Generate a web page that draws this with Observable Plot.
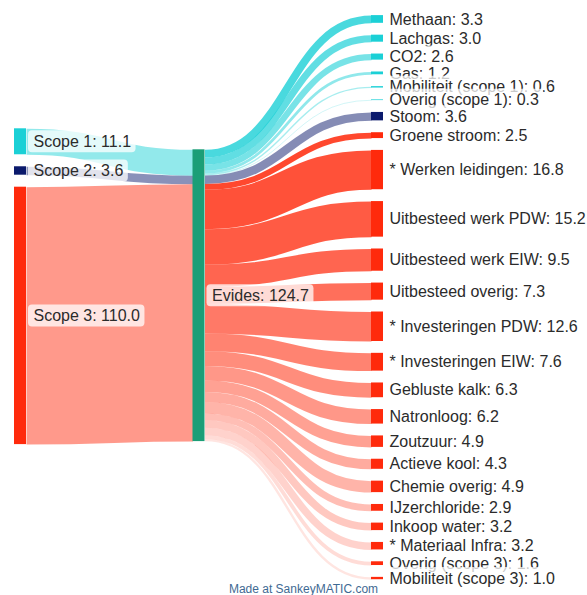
<!DOCTYPE html>
<html>
<head>
<meta charset="utf-8">
<script src="https://cdn.jsdelivr.net/npm/d3@7"></script>
<script src="https://cdn.jsdelivr.net/npm/@observablehq/plot@0.6"></script>
<style>
  html, body { margin: 0; padding: 0; background: #fff; }
  #chart svg { display: block; }
</style>
</head>
<body>
<div id="chart"></div>
<script>
// ---------------- DATA ----------------
const sources = ["Scope 1", "Scope 2", "Scope 3"];
const sourceValues = [11.1, 3.6, 110.0];

const hubName = "Evides";
const hubValue = 124.7;

const targets = [
  "Methaan", "Lachgas", "CO2", "Gas", "Mobiliteit (scope 1)", "Overig (scope 1)",
  "Stoom",
  "Groene stroom", "* Werken leidingen", "Uitbesteed werk PDW", "Uitbesteed werk EIW",
  "Uitbesteed overig", "* Investeringen PDW", "* Investeringen EIW", "Gebluste kalk",
  "Natronloog", "Zoutzuur", "Actieve kool", "Chemie overig", "IJzerchloride",
  "Inkoop water", "* Materiaal Infra", "Overig (scope 3)", "Mobiliteit (scope 3)"
];
const targetValues = [
  3.3, 3.0, 2.6, 1.2, 0.6, 0.3,
  3.6,
  2.5, 16.8, 15.2, 9.5, 7.3, 12.6, 7.6, 6.3, 6.2, 4.9, 4.3, 4.9, 2.9, 3.2, 3.2, 1.6, 1.0
];
const targetScope = [
  "Scope 1", "Scope 1", "Scope 1", "Scope 1", "Scope 1", "Scope 1",
  "Scope 2",
  "Scope 3", "Scope 3", "Scope 3", "Scope 3", "Scope 3", "Scope 3", "Scope 3", "Scope 3",
  "Scope 3", "Scope 3", "Scope 3", "Scope 3", "Scope 3", "Scope 3", "Scope 3", "Scope 3", "Scope 3"
];
const caption = "Made at SankeyMATIC.com";

// ---------------- STYLE / LAYOUT ----------------
const W = 587, H = 595;
const K = 2.34;                 // pixels per unit of value
const u = px => px / K;         // pixel length -> value units (y scale domain)
const scopeColor = {"Scope 1": "#1bd0d6", "Scope 2": "#0b1a6c", "Scope 3": "#ff2a0c"};
const hubColor = "#1b9e77";
const FONT = '"Liberation Sans", Arial, Helvetica, sans-serif';
const FS = 16;

const colL = [14, 26], colM = [192.5, 204.5], colR = [371, 383];
const fmt = v => v.toFixed(1);

const nodes = [];
const links = [];
const labels = [];

// left column
let yy = u(128.3);
const leftNodes = sources.map((s, i) => {
  const n = {name: s, value: sourceValues[i], x0: colL[0], x1: colL[1], y0: yy, y1: yy + sourceValues[i], color: scopeColor[s]};
  yy += sourceValues[i] + u(12);
  nodes.push(n);
  return n;
});
// hub
const hub = {name: hubName, value: hubValue, x0: colM[0], x1: colM[1], y0: u(149.3), y1: u(149.3) + hubValue, color: hubColor};
nodes.push(hub);
// right column
yy = u(15.1);
const rightNodes = targets.map((t, i) => {
  const n = {name: t, value: targetValues[i], x0: colR[0], x1: colR[1], y0: yy, y1: yy + targetValues[i], color: scopeColor[targetScope[i]], scope: targetScope[i]};
  yy += targetValues[i] + u(11.85);
  nodes.push(n);
  return n;
});

// links: sources -> hub
let hy = hub.y0;
leftNodes.forEach(n => {
  links.push({xa: n.x1, ya: (n.y0 + n.y1) / 2, xb: hub.x0, yb: hy + n.value / 2, value: n.value, color: n.color, op: 0.48});
  hy += n.value;
});
// links: hub -> targets (opacity fades within each scope group)
hy = hub.y0;
const groupCount = d3.rollup(rightNodes, v => v.length, d => d.scope);
const groupIdx = {};
const opRange = {"Scope 1": [0.8, 0.28], "Scope 2": [0.5, 0.5], "Scope 3": [0.86, 0.12]};
rightNodes.forEach(n => {
  const i = groupIdx[n.scope] = (groupIdx[n.scope] ?? -1) + 1;
  const c = groupCount.get(n.scope);
  const [a, b] = opRange[n.scope];
  const op = c > 1 ? a + (b - a) * i / (c - 1) : a;
  links.push({xa: hub.x1, ya: hy + n.value / 2, xb: n.x0, yb: (n.y0 + n.y1) / 2, value: n.value, color: n.color, op});
  hy += n.value;
});

// labels
const ctx = document.createElement("canvas").getContext("2d");
ctx.font = `${FS}px ${FONT}`;
const tw = s => ctx.measureText(s).width;
function addLabel(n, tx) {
  const text = `${n.name}: ${fmt(n.value)}`;
  const cy = (n.y0 + n.y1) / 2;
  labels.push({text, x: tx, y: cy, bx1: tx - 5, bx2: tx + tw(text) + 5, by1: cy - u(11), by2: cy + u(11)});
}
leftNodes.forEach(n => addLabel(n, n.x1 + 7));
addLabel(hub, hub.x1 + 7);
rightNodes.forEach(n => addLabel(n, n.x1 + 6));

const labelMarks = labels.flatMap(l => [
  Plot.rect([l], {x1: "bx1", x2: "bx2", y1: "by1", y2: "by2", rx: 4, fill: "white", fillOpacity: 0.75}),
  Plot.text([l], {x: "x", y: "y", text: "text", textAnchor: "start", fontSize: FS, fontFamily: FONT, fill: "#2b2b2b"})
]);

const chart = Plot.plot({
  width: W,
  height: H,
  margin: 0,
  x: {domain: [0, W], range: [0, W], axis: null},
  y: {domain: [0, u(H)], range: [0, H], axis: null},
  color: {type: "identity"},
  opacity: {type: "identity"},
  style: {background: "white", fontFamily: FONT},
  marks: [
    Plot.link(links, {x1: "xa", y1: "ya", x2: "xb", y2: "yb", curve: "bump-x", stroke: "color", strokeOpacity: "op", strokeWidth: d => d.value * K}),
    Plot.rect(nodes, {x1: "x0", x2: "x1", y1: "y0", y2: "y1", fill: "color"}),
    ...labelMarks,
    Plot.text([{text: caption, x: 303, y: u(589)}], {x: "x", y: "y", text: "text", fontSize: 12, fontFamily: FONT, fill: "#3f6a93"})
  ]
});
document.getElementById("chart").appendChild(chart);
</script>
</body>
</html>
